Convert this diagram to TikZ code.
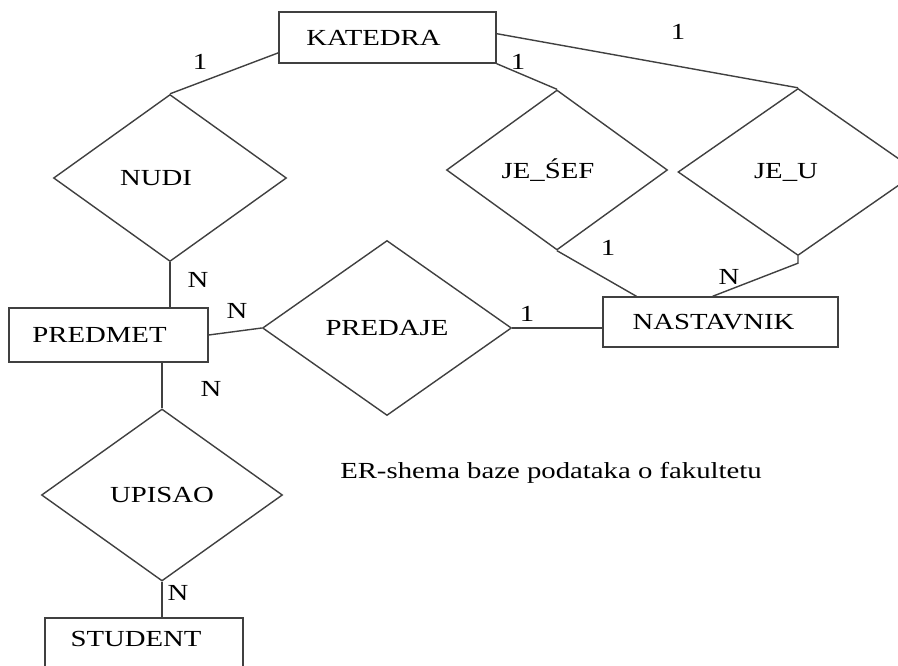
\documentclass[tikz,border=0pt]{standalone}
\usepackage{fontspec}
\setmainfont{Liberation Serif}[FakeStretch=1.25]
\usetikzlibrary{
    shapes.geometric,
    positioning
}
\tikzset{entity/.style={
    draw=black!75,
    line width=1.4pt,
    inner sep=0pt
}}
\tikzset{relation/.style={
    diamond,
    draw=black!75,
    line width=1.4pt,
    inner sep=0pt
}}
\tikzset{card/.style={inner sep=0pt}}
\tikzset{link/.style={draw=black!75, line width=1.4pt}}
% pad text on the right so it sits left of the middle
\newcommand{\lpad}[2]{#1\hspace*{#2}\mbox{}}

\begin{document}
\begin{tikzpicture}[
            x=1pt, y=-1pt,
            font=\fontsize{23}{26}\selectfont,
    ]
        \clip (0,0) rectangle (898,666);
        \fill[white] (0,0) rectangle (898,666);

        \node[entity, minimum width=217pt, minimum height=51pt]
            (katedra) at (387.5,37.5)
            {\lpad{KATEDRA}{28pt}};

        \node[entity, minimum width=199pt, minimum height=54pt]
            (predmet) at (108.5,335)
            {\lpad{PREDMET}{18pt}};

        \node[entity, minimum width=235pt, minimum height=50pt]
            (nastavnik) at (720.5,322)
            {\lpad{NASTAVNIK}{14pt}};

        \node[entity, minimum width=198pt, minimum height=56pt,
              text depth=14pt]
            (student) at (144,646)
            {\lpad{STUDENT}{16pt}};

        \node[relation, minimum width=233pt, minimum height=167pt]
            (nudi) at (170,178)
            {\lpad{NUDI}{28pt}};

        \node[relation, minimum width=221pt, minimum height=160pt]
            (je-sef) at (557,170)
            {\lpad{JE\_ŚEF}{18pt}};

        \node[relation, minimum width=240pt, minimum height=167pt]
            (je-u) at (798,172)
            {\lpad{JE\_U}{24pt}};

        \node[relation, minimum width=249pt, minimum height=175pt]
            (predaje) at (387,328)
            {PREDAJE};

        \node[relation, minimum width=241pt, minimum height=172pt]
            (upisao) at (162,495)
            {UPISAO};

        \draw[link] (katedra.188) -- (nudi.north);
        \draw[link] (katedra.south east) -- (je-sef.north);
        \draw[link] (katedra.2) -- (je-u.north);
        \draw[link] (nudi.south) -- (nudi.south |- predmet.north);
        \draw[link] (predmet.east) -- (predaje.west);
        \draw[link] (upisao.north |- predmet.south) -- (upisao.north);
        \draw[link] (upisao.south) -- (student.north -| upisao.south);
        \draw[link] (predaje.east) -- (predaje.east -| nastavnik.west);
        \draw[link] (je-sef.south) -- (nastavnik.163);
        \draw[link] (je-u.south) -- ++(0,7) -- (nastavnik.107);

        \node[card] (c-kat-nudi) at (200,62) {1};
        \node[card] (c-kat-sef) at (518,62) {1};
        \node[card] (c-kat-u) at (678,32) {1};
        \node[card] (c-nudi-pred) at (198,280) {N};
        \node[card] (c-pred-predaje) at (237,311) {N};
        \node[card] (c-pred-upis) at (211,389) {N};
        \node[card] (c-upis-stud) at (178,593) {N};
        \node[card] (c-predaje-nast) at (527,314) {1};
        \node[card] (c-sef-nast) at (608,248) {1};
        \node[card] (c-u-nast) at (729,277) {N};

        \node[card] (caption) at (551,473)
            {ER-shema baze podataka o fakultetu};

    \end{tikzpicture}
\end{document}
